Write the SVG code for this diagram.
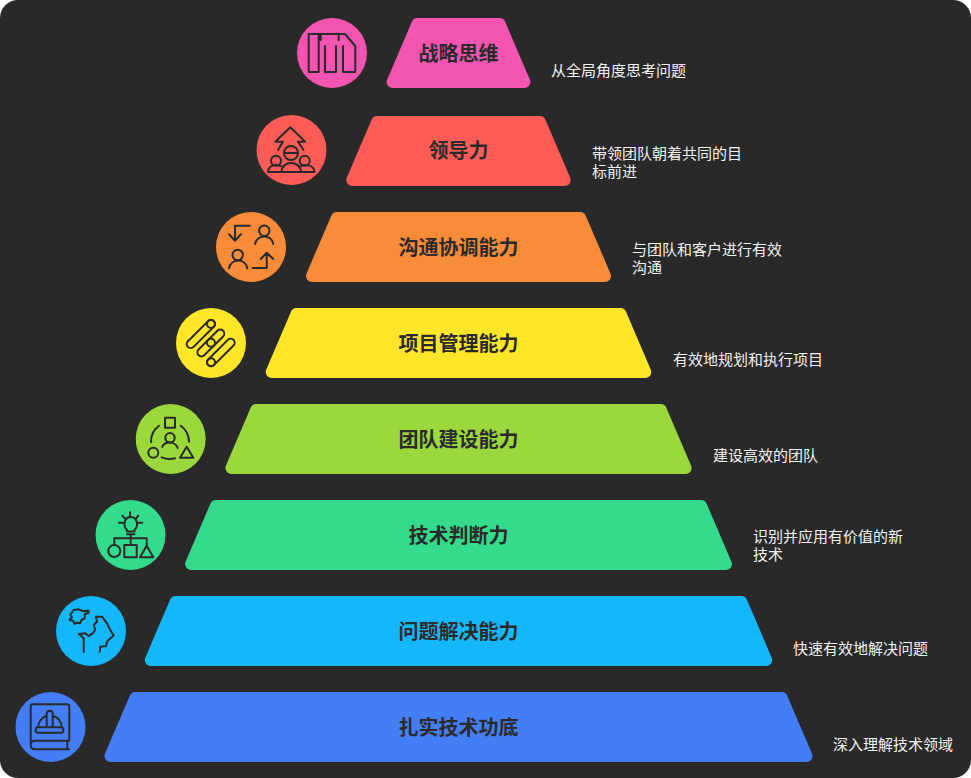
<svg xmlns="http://www.w3.org/2000/svg" width="971" height="778" viewBox="0 0 971 778">
<style>
.tz{stroke-width:12;stroke-linejoin:round}
.ic{fill:none;stroke:#2a2a2a;stroke-width:2;stroke-linecap:round;stroke-linejoin:round}
.t{font-family:"Noto Sans CJK SC","Liberation Sans",sans-serif;font-size:20px;font-weight:700;fill:#2a2a2a;text-anchor:middle}
.d{font-family:"Noto Sans CJK SC","Liberation Sans",sans-serif;font-size:15px;fill:#f2f2f2}
</style>
<rect width="971" height="778" fill="#ffffff"/>
<rect width="971" height="778" rx="18" fill="#292929"/>
<g id="node-strategy">
<polygon class="tz" fill="#F455B0" stroke="#F455B0" points="417.4,24 499.6,24 524.400,82 392.600,82"/>
<circle cx="332" cy="53" r="35" fill="#F455B0"/>
<path class="ic" d="M308.700 34H345L355.300 46V72H343V46M320.700 34V40M338.700 34V40M318.700 34V72H308.700V34M325 46V72H336V46"/>
<text class="t" x="458.500" y="61">战略思维</text>
<text class="d" x="551" y="76">从全局角度思考问题</text>
</g>
<g id="node-leadership">
<polygon class="tz" fill="#FF5C57" stroke="#FF5C57" points="377.100,122 539.900,122 564.700,180 352.300,180"/>
<circle cx="291.500" cy="150" r="35" fill="#FF5C57"/>
<path class="ic" d="M283 141.700H275.300L290.300 127.300L305.300 141.700H298M283 141.700L278 150M298 141.700L303.500 150"/>
<circle class="ic" cx="291" cy="153" r="7"/>
<path class="ic" d="M285 153H297M281.500 171.700C282 160 300 160 301 171.700M268 171.700C268.500 165 276 164 281 166M314.500 171.700C314 165 306 164 301 166M268 172H314.500"/>
<circle class="ic" cx="276" cy="160.700" r="5"/>
<circle class="ic" cx="304.700" cy="160.700" r="5"/>
<text class="t" x="458.500" y="158">领导力</text>
<text class="d" x="592" y="159">带领团队朝着共同的目</text>
<text class="d" x="592" y="177">标前进</text>
</g>
<g id="node-communication">
<polygon class="tz" fill="#F98C38" stroke="#F98C38" points="336.800,218 580.200,218 605,276 312,276"/>
<circle cx="251" cy="247" r="35" fill="#F98C38"/>
<path class="ic" d="M249.700 225.700H235V240.700M229 234.300L235 240.700L241 234.300M252.500 268H266.700V253M260.700 259L266.700 252.700L273.300 259M255 244C257 234 271.500 234 273.300 244M229 268.300C231 258 245.500 258 247.300 268.300"/>
<circle class="ic" cx="264.300" cy="230.700" r="5.200"/>
<circle class="ic" cx="237.700" cy="255" r="5.200"/>
<text class="t" x="458.500" y="255">沟通协调能力</text>
<text class="d" x="632" y="255">与团队和客户进行有效</text>
<text class="d" x="632" y="273">沟通</text>
</g>
<g id="node-project">
<polygon class="tz" fill="#FFE629" stroke="#FFE629" points="296.500,314 620.500,314 645.300,372 271.700,372"/>
<circle cx="211" cy="343" r="35" fill="#FFE629"/>
<rect class="ic" x="-18.250" y="-4" width="36.500" height="8" rx="4" transform="translate(200.850 334) rotate(-45)"/>
<rect class="ic" x="-17.300" y="-4" width="34.600" height="8" rx="4" transform="translate(210.850 343) rotate(-45)"/>
<rect class="ic" x="-17.900" y="-4" width="35.800" height="8" rx="4" transform="translate(220.850 352.500) rotate(-45)"/>
<circle class="ic" cx="211" cy="324" r="4"/>
<circle class="ic" cx="211" cy="342.700" r="4"/>
<circle class="ic" cx="211" cy="362.300" r="4"/>
<text class="t" x="458.500" y="351">项目管理能力</text>
<text class="d" x="673" y="365">有效地规划和执行项目</text>
</g>
<g id="node-team">
<polygon class="tz" fill="#9BD83C" stroke="#9BD83C" points="256.200,410 660.800,410 685.600,468 231.400,468"/>
<circle cx="170.700" cy="439" r="35" fill="#9BD83C"/>
<rect class="ic" x="165" y="417.700" width="10" height="10"/>
<circle class="ic" cx="153.300" cy="452.700" r="5"/>
<path class="ic" d="M186.700 446.700L180 457.700H193.300ZM162.300 447C164.500 441 175.500 441 177.700 448M159 425.700A20 20 0 0 0 151 442.300M180.700 425.700A20 20 0 0 1 189 441.700M161.700 457.300A20 20 0 0 0 175 458.300"/>
<circle class="ic" cx="170" cy="437.700" r="4.700"/>
<text class="t" x="458.500" y="447">团队建设能力</text>
<text class="d" x="713" y="461">建设高效的团队</text>
</g>
<g id="node-judgement">
<polygon class="tz" fill="#34DB8C" stroke="#34DB8C" points="215.900,506 701.100,506 725.900,564 191.100,564"/>
<circle cx="130.500" cy="535" r="35" fill="#34DB8C"/>
<path class="ic" d="M127 530C122 525 125 517 130.700 517C136.500 517 139.500 525 134.500 530V531.500H127ZM119 522.700H122.700M138.300 522.700H142.300M130 512.300V516.700M122.300 515.700L125 518.700M138.300 515.700L136 518.700M127 534.300H134.500M130.700 534.300V545M114.300 545V538.300H146.700V545"/>
<circle class="ic" cx="114.300" cy="551" r="6"/>
<rect class="ic" x="124.300" y="545" width="12.400" height="12.300"/>
<path class="ic" d="M146.700 545.700L140 557.300H153.300Z"/>
<text class="t" x="458.500" y="543">技术判断力</text>
<text class="d" x="753" y="542">识别并应用有价值的新</text>
<text class="d" x="753" y="560">技术</text>
</g>
<g id="node-problem">
<polygon class="tz" fill="#14B8FA" stroke="#14B8FA" points="175.600,602 741.400,602 766.200,660 150.800,660"/>
<circle cx="91" cy="631" r="35" fill="#14B8FA"/>
<path class="ic" d="M70.300 615L73.700 610L78.700 609.300L82.700 611L88.700 610.700L88.700 612.700L84.700 614L84.700 618.300L81.300 620L80.300 623.300L77 622.700L74.700 624L73 620.700L69.300 620L72 617.300Z"/>
<path class="ic" d="M83.700 643.300V638.300L81.300 636L78.700 634L85.300 633.300L88.700 636L92.700 633.300L95.300 630L93.700 625L97 621.700L96 616.700L102 616.700L107 623.300L110.300 630L113.700 635.700L110.300 638.300L107 641.700L106 646L100.300 646.700L99.700 651.700M83.700 643.300V652"/>
<text class="t" x="458.500" y="639">问题解决能力</text>
<text class="d" x="793" y="654">快速有效地解决问题</text>
</g>
<g id="node-foundation">
<polygon class="tz" fill="#447EF6" stroke="#447EF6" points="135.300,698 781.700,698 806.500,756 110.500,756"/>
<circle cx="50.500" cy="727" r="35" fill="#447EF6"/>
<path class="ic" d="M69.300 740.700V706.300Q69.300 704.300 67.300 704.300H32.700Q30.700 704.300 30.700 706.300V745Q30.700 749.300 35 749.300H69M69.300 740.700H35Q30.700 740.700 30.700 745M67.300 740.700V749.300"/>
<rect class="ic" x="35.700" y="727.300" width="27.600" height="5.400" rx="2"/>
<path class="ic" d="M38.300 727A11.700 11.700 0 0 1 46.700 715.800M52.700 715.800A11.700 11.700 0 0 1 61.700 727M46.700 727V713.700Q46.700 710.700 49.700 710.700Q52.700 710.700 52.700 713.700V727"/>
<text class="t" x="458.500" y="735">扎实技术功底</text>
<text class="d" x="833" y="750">深入理解技术领域</text>
</g>
</svg>
